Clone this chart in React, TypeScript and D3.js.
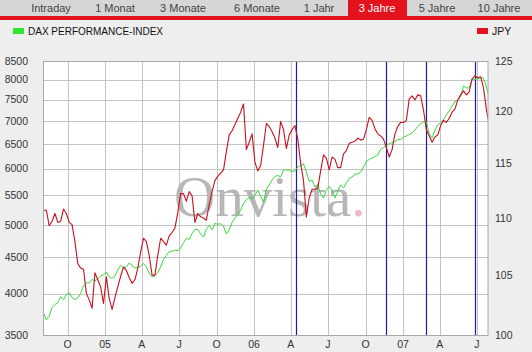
import React from "react";
import * as d3 from "d3";

// weekly closes, first week starts 2004-08-03
const startDate = new Date(2004, 7, 3);
const endDate = new Date(2007, 6, 28);

const daxWeekly = [
  3758, 3674, 3720, 3826, 3863, 3888, 3963, 3925, 3989, 4011, 3950, 3925, 3950, 4002, 4108, 4143,
  4143, 4190, 4170, 4197, 4238, 4252, 4293, 4224, 4203, 4238, 4320, 4384, 4348, 4362, 4420, 4384,
  4348, 4355, 4376, 4412, 4362, 4278, 4224, 4238, 4286, 4362, 4469, 4527, 4585, 4592, 4606, 4598,
  4633, 4718, 4788, 4768, 4862, 4925, 4925, 4854, 4806, 4933, 4990, 4917, 5025, 5009, 5019, 4982,
  4854, 4925, 5038, 5112, 5171, 5246, 5356, 5423, 5463, 5437, 5508, 5597, 5490, 5384, 5615, 5686,
  5782, 5849, 5868, 5840, 5972, 5972, 5972, 5943, 5953, 6030, 6060, 6093, 5934, 5754, 5782, 5653,
  5690, 5526, 5455, 5597, 5662, 5597, 5455, 5579, 5690, 5634, 5727, 5810, 5840, 5887, 5896, 5934,
  6030, 6140, 6180, 6210, 6237, 6271, 6383, 6424, 6455, 6508, 6523, 6546, 6593, 6593, 6643, 6669,
  6699, 6734, 6798, 6876, 6936, 6977, 6983, 6712, 6624, 6798, 6910, 6965, 7032, 7136, 7229, 7347,
  7443, 7504, 7578, 7841, 7790, 7790, 8017, 8004, 8030, 8043, 8043, 7815, 7540,
];

const jpyWeekly = [
  110.7, 110.7, 109.3, 109.7, 110.4, 109.6, 109.7, 110.8, 110.4, 109.6, 109.4, 107.9, 106.0, 105.6,
  105.5, 103.45, 102.9, 102.2, 105.2, 104.6, 104.0, 102.6, 104.85, 103.0, 102.1, 103.1, 104.0, 104.9,
  105.7, 105.4, 104.8, 104.3, 104.6, 105.6, 107.0, 108.2, 107.9, 106.7, 105.0, 105.0, 106.7, 108.2,
  107.9, 107.6, 108.4, 108.7, 109.1, 110.5, 112.2, 112.2, 111.5, 112.4, 112.0, 109.6, 110.4, 110.1,
  110.0, 109.8, 111.2, 112.4, 113.4, 113.8, 114.1, 114.4, 116.1, 117.7, 118.1, 118.7, 119.3, 119.9,
  120.7, 116.3, 117.0, 117.8, 115.1, 114.3, 114.8, 116.7, 118.8, 118.5, 118.0, 117.4, 116.5, 119.0,
  118.2, 116.4, 117.7, 118.2, 118.6, 117.3, 115.0, 113.4, 110.1, 111.8, 112.6, 112.6, 112.7, 114.3,
  115.8, 115.5, 114.4, 115.6, 115.4, 114.6, 114.6, 115.9, 116.2, 116.9, 117.0, 117.1, 117.4, 117.2,
  117.3, 118.2, 119.4, 119.1, 118.3, 117.8, 117.6, 117.3, 116.5, 115.6, 116.3, 117.8, 118.5, 118.9,
  118.9, 119.1, 121.2, 121.5, 121.1, 121.6, 121.5, 120.1, 118.2, 117.6, 117.0, 117.5, 117.7, 118.6,
  119.1, 118.9, 119.3, 119.9, 120.2, 121.1, 121.6, 122.0, 121.6, 121.9, 123.2, 123.5, 123.3, 123.4,
  122.3, 120.2, 118.6,
];

const leftTicks = [3500, 4000, 4500, 5000, 5500, 6000, 6500, 7000, 7500, 8000, 8500];
const rightTicks = [100, 105, 110, 115, 120, 125];
const quarterLabels = ["O", "05", "A", "J", "O", "06", "A", "J", "O", "07", "A", "J"];
const eventDates = ["2006-04-14", "2006-11-19", "2007-02-26", "2007-06-25"];

const tabs = ["Intraday", "1 Monat", "3 Monate", "6 Monate", "1 Jahr", "3 Jahre", "5 Jahre", "10 Jahre"];
const activeTab = "3 Jahre";
const tabCenters = [51, 115, 183, 257, 319, 377, 437, 499];

const W = 532;
const H = 352;
const plot = { left: 43.5, right: 488, top: 61, bottom: 335 };
const font = "'Liberation Sans', Arial, sans-serif";
const RED = "#e3121c";

export default function App() {
  const x = d3.scaleTime().domain([startDate, endDate]).range([plot.left, plot.right]);
  const yL = d3.scaleLog().domain([3500, 8500]).range([plot.bottom, plot.top]);
  const yR = d3.scaleLog().domain([100, 125]).range([plot.bottom, plot.top]);

  const weekDate = (i: number) => d3.timeDay.offset(startDate, i * 7);

  const daxLine = d3
    .line<number>()
    .x((_, i) => x(weekDate(i)))
    .y((d) => yL(d));
  const jpyLine = d3
    .line<number>()
    .x((_, i) => x(weekDate(i)))
    .y((d) => yR(d));

  const quarters = x.ticks(d3.timeMonth.filter((d) => d.getMonth() % 3 === 0));
  const crisp = (v: number) => Math.round(v) + 0.5;

  return (
    <svg
      width={W}
      height={H}
      style={{ position: "absolute", left: 0, top: 0, display: "block" }}
      fontFamily={font}
    >
      <rect x={0} y={0} width={W} height={H} fill="#eeeeee" />

      {/* tab bar */}
      <rect x={0} y={0} width={W} height={16} fill="#d6d6d6" />
      {tabs.map((t) =>
        t === activeTab ? <rect key={t} x={348} y={0} width={59} height={16} fill={RED} /> : null
      )}
      <rect x={0} y={16} width={W} height={4} fill={RED} />
      {tabs.map((t, i) => (
        <text
          key={t}
          x={tabCenters[i]}
          y={11.5}
          textAnchor="middle"
          fontSize={11}
          fill={t === activeTab ? "#ffffff" : "#444444"}
        >
          {t}
        </text>
      ))}

      {/* legend */}
      <rect x={13} y={28} width={11} height={6} fill="#2ee62e" />
      <text x={28} y={35} fontSize={10} fill="#111">
        DAX PERFORMANCE-INDEX
      </text>
      <rect x={477} y={28} width={11} height={6} fill={RED} />
      <text x={492} y={35} fontSize={10.5} fill="#111">
        JPY
      </text>

      {/* plot */}
      <defs>
        <clipPath id="plotClip">
          <rect x={plot.left} y={plot.top} width={plot.right - plot.left} height={plot.bottom - plot.top} />
        </clipPath>
      </defs>
      <rect
        x={plot.left}
        y={plot.top}
        width={plot.right - plot.left}
        height={plot.bottom - plot.top}
        fill="#ffffff"
      />

      {leftTicks.map((t) => (
        <line
          key={"h" + t}
          x1={plot.left}
          x2={plot.right}
          y1={crisp(yL(t))}
          y2={crisp(yL(t))}
          stroke="#c4c4c4"
          strokeWidth={1}
        />
      ))}
      {quarters.map((d) => (
        <line
          key={"v" + d.getTime()}
          x1={crisp(x(d))}
          x2={crisp(x(d))}
          y1={plot.top}
          y2={plot.bottom}
          stroke="#c4c4c4"
          strokeWidth={1}
        />
      ))}

      {/* watermark */}
      <text
        x={174}
        y={216}
        fontFamily="'Liberation Serif', 'Times New Roman', serif"
        fontSize={57}
        fill="#b0b0b0"
        opacity={0.9}
      >
        Onvista<tspan fill="#e6b4c0">.</tspan>
      </text>

      {eventDates.map((s) => {
        const xv = crisp(x(d3.timeParse("%Y-%m-%d")(s) as Date));
        return <line key={s} x1={xv} x2={xv} y1={plot.top} y2={plot.bottom} stroke="#1c1ca8" strokeWidth={1.2} />;
      })}

      <g clipPath="url(#plotClip)" fill="none" strokeLinejoin="round">
        <path d={daxLine(daxWeekly) ?? ""} stroke="#3ad83a" strokeWidth={1} />
        <path d={jpyLine(jpyWeekly) ?? ""} stroke="#c8101e" strokeWidth={1.1} />
      </g>

      <rect
        x={plot.left}
        y={plot.top + 0.5}
        width={plot.right - plot.left}
        height={plot.bottom - plot.top}
        fill="none"
        stroke="#a8a8a8"
        strokeWidth={1}
      />

      {/* axes labels */}
      {leftTicks.map((t) => (
        <text key={"l" + t} x={28} y={yL(t)} dy="0.35em" textAnchor="end" fontSize={10.5} fill="#333">
          {t}
        </text>
      ))}
      {rightTicks.map((t) => (
        <text key={"r" + t} x={495} y={yR(t)} dy="0.35em" fontSize={10.5} fill="#333">
          {t}
        </text>
      ))}
      {quarters.map((d, i) => (
        <text key={"q" + i} x={x(d)} y={348} textAnchor="middle" fontSize={10.5} fill="#333">
          {quarterLabels[i]}
        </text>
      ))}
    </svg>
  );
}
